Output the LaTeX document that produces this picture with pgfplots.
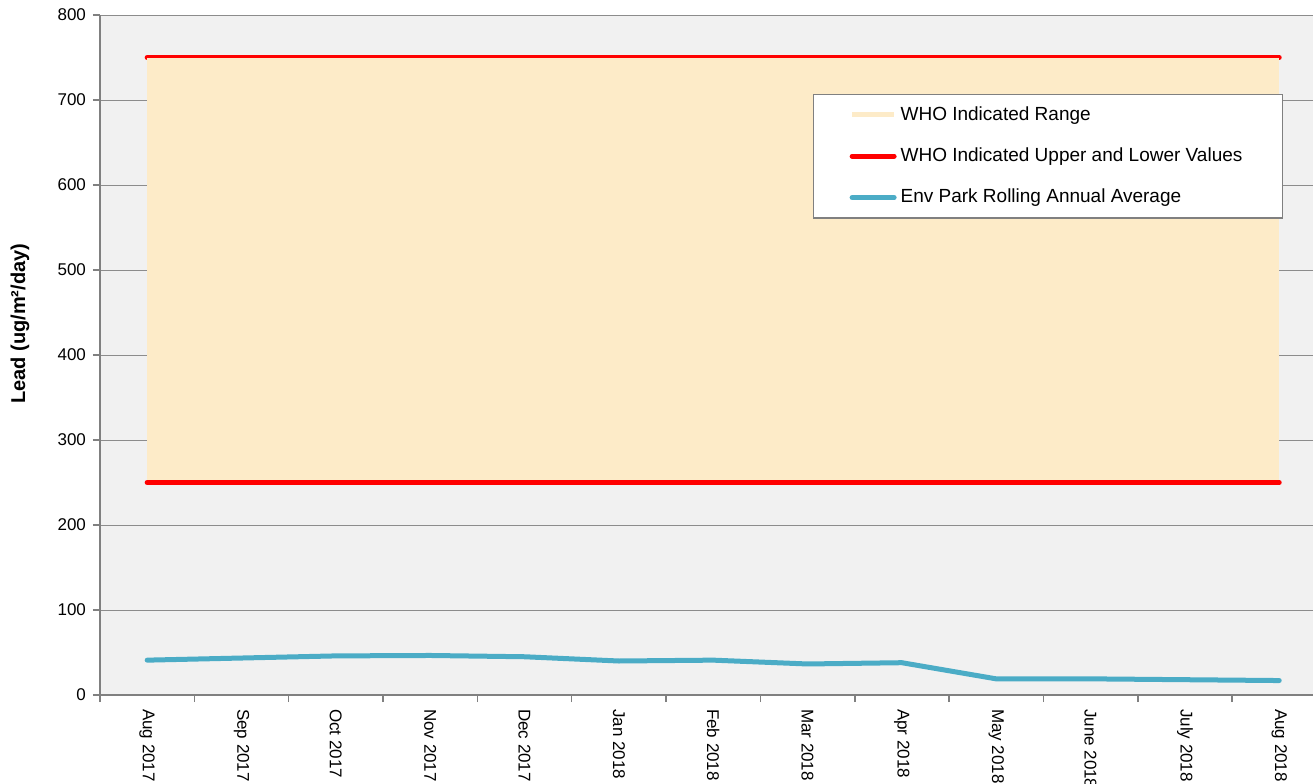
\documentclass[border=0pt]{standalone}
\usepackage{fontspec}
\setmainfont{Liberation Sans}
\usepackage{pgfplots}
\pgfplotsset{compat=1.18}
\definecolor{bgcol}{RGB}{241,241,241}
\definecolor{gridcol}{RGB}{140,140,140}
\definecolor{axcol}{RGB}{128,128,128}
\definecolor{rangecol}{RGB}{253,235,200}
\definecolor{redcol}{RGB}{255,0,0}
\definecolor{bluecol}{RGB}{75,172,198}
\begin{document}
\begin{tikzpicture}
\begin{axis}[
  scale only axis,
  width=613.2pt, height=340pt,
  xmin=-0.5, xmax=12.5,
  ymin=0, ymax=800,
  axis lines*=left,
  axis line style={axcol, line width=1pt},
  axis background/.style={fill=bgcol},
  ytick={0,100,...,800},
  ymajorgrids,
  major grid style={gridcol, line width=0.5pt},
  tick align=outside,
  major tick length=3.5pt,
  tick style={axcol, line width=0.8pt},
  xtick={-0.5,0.5,...,12.5},
  x tick label as interval,
  xticklabels={Aug 2017,Sep 2017,Oct 2017,Nov 2017,Dec 2017,Jan 2018,Feb 2018,Mar 2018,Apr 2018,May 2018,June 2018,July 2018,Aug 2018},
  xticklabel style={rotate=-90, anchor=west, font=\fontsize{8.5}{10}\selectfont},
  yticklabel style={font=\fontsize{8.5}{10}\selectfont},
  /pgf/number format/assume math mode=true,
  ylabel={\textbf{Lead (ug/m²/day)}},
  ylabel style={font=\fontsize{6.7}{8}\selectfont},
  every axis y label/.style={at={(axis description cs:-0.0652,0.546)}, rotate=90, anchor=center},
  legend image code/.code={\draw[#1] (0pt,0pt) -- (21pt,0pt);},
  legend style={at={(axis description cs:0.5814,0.884)}, anchor=north west,
    draw=axcol, line width=0.6pt, fill=white, font=\fontsize{9.5}{11}\selectfont,
    cells={anchor=west}, row sep=8.3pt, inner xsep=18pt, inner ysep=4pt},
  clip=false,
]
\addplot[redcol, line width=2.5pt, line cap=round, forget plot] coordinates {(0,750) (12,750)};
\addplot[fill=rangecol, draw=none,
  legend image code/.code={\draw[rangecol, line width=2.5pt] (0pt,0pt) -- (21pt,0pt);}]
  coordinates {(0,253) (12,253) (12,749.5) (0,749.5)};
\addlegendentry{WHO Indicated Range}
\addplot[redcol, line width=2.5pt, line cap=round] coordinates {(0,250) (12,250)};
\addlegendentry{WHO Indicated Upper and Lower Values}
\addplot[bluecol, line width=2.5pt, line cap=round, line join=round] coordinates {
(0,41) (1,43.5) (2,46) (3,46.5) (4,45) (5,40) (6,41) (7,36.5) (8,38) (9,19) (10,19) (11,18) (12,17)};
\addlegendentry{Env Park Rolling Annual Average}
\end{axis}
\pgfresetboundingbox
\path[use as bounding box] (-50pt,-44pt) rectangle (606.5pt,347.5pt);
\end{tikzpicture}
\end{document}
